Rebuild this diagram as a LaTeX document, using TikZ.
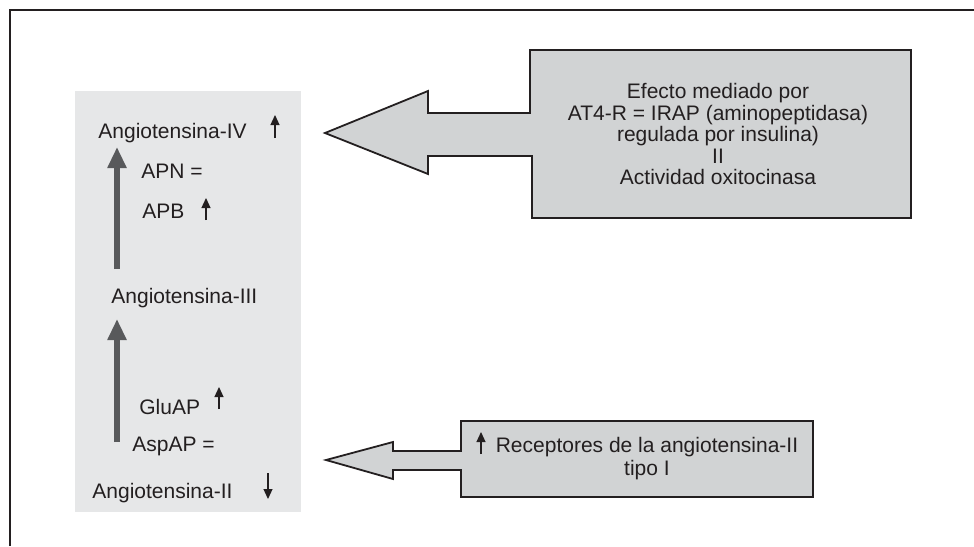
\documentclass[tikz,border=0pt]{standalone}
\usepackage{fontspec}
\setmainfont{Liberation Sans}
\usetikzlibrary{arrows.meta}
\definecolor{panel}{HTML}{E6E7E8}
\definecolor{callout}{HTML}{D1D3D4}
\definecolor{pathway}{HTML}{58595B}
\definecolor{ink}{HTML}{231F20}

\begin{document}
\begin{tikzpicture}[
  x=0.5pt, y=-0.5pt,
  line join=miter,
  every node/.style={font=\fontsize{10.5}{10.5}\selectfont, inner sep=0pt, text=ink},
  frame/.style={draw=ink, line width=0.6pt},
  callout/.style={draw=ink, fill=callout, line width=0.9pt},
  pathway/.style={draw=pathway, line width=3pt, -{Triangle[length=10.5pt, width=9pt]}},
  trend/.style={draw=ink, line width=0.6pt, -{Triangle[length=5pt, width=4.5pt]}},
  level/.style={anchor=base west},
]
\useasboundingbox (0,0) rectangle (974,546);
\draw[frame] (10,546) -- (10,10) -- (974,10);
\fill[panel] (75,91) rectangle (301,512);
% pathway labels
\node[level] (ang4) at (98,138) {Angiotensina-IV};
\node[level] (apn) at (141,178) {APN =};
\node[level] (apb) at (142,218) {APB};
\node[level] (ang3) at (111,303) {Angiotensina-III};
\node[level] (gluap) at (139,414) {GluAP};
\node[level] (aspap) at (132,451) {AspAP =};
\node[level] (ang2) at (92,498) {Angiotensina-II};
% conversion arrows
\coordinate (from3) at (117,269);
\coordinate (to4) at (117,147);
\coordinate (from2) at (117,442);
\coordinate (to3) at (117,319);
\draw[pathway] (from3) -- (to4);
\draw[pathway] (from2) -- (to3);
% up and down marks
\draw[trend] (275,138) -- ++(0,-23);
\draw[trend] (206,220) -- ++(0,-22);
\draw[trend] (219,409) -- ++(0,-22);
\draw[trend] (268,473) -- ++(0,26);
% callouts
\draw[callout] (325,133) -- (428,91) -- (428,113) -- (530,113) -- (530,50) -- (911,50)
  -- (911,218) -- (532,218) -- (532,156) -- (428,156) -- (428,174) -- cycle;
\node[align=center, font=\fontsize{10.5}{10.75}\selectfont] (at4r) at (718,134)
  {Efecto mediado por\\AT4-R = IRAP (aminopeptidasa)\\regulada por insulina)\\II\\Actividad oxitocinasa};
\draw[callout] (326,460) -- (393,442) -- (393,451) -- (461,451) -- (461,421) -- (813,421)
  -- (813,497) -- (461,497) -- (461,470) -- (393,470) -- (393,479) -- cycle;
\node[align=center, font=\fontsize{10.5}{11.5}\selectfont] (at1r) at (647,459)
  {Receptores de la angiotensina-II\\tipo I};
\draw[trend] (481,454) -- ++(0,-22);
\end{tikzpicture}
\end{document}
